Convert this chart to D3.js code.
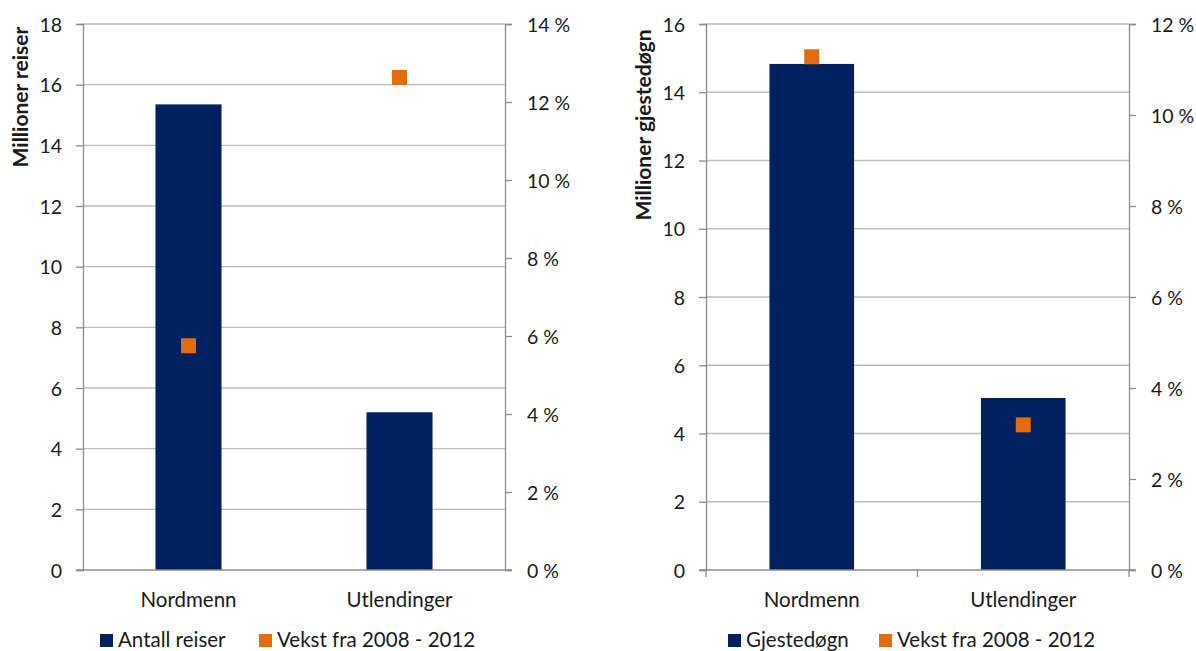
<!DOCTYPE html>
<html>
<head>
<meta charset="utf-8">
<script src="https://cdn.jsdelivr.net/npm/d3@7"></script>
<style>
  html, body { margin: 0; padding: 0; background: #fff; }
  svg text { font-family: Lato, "Open Sans", sans-serif; fill: #1a1a1a; }
</style>
</head>
<body>
<svg id="chart" width="1196" height="651"></svg>
<script>
// Categories shared by both panels
const categories = ["Nordmenn", "Utlendinger"];

// Left panel: trips (millions) and growth 2008-2012 (%)
const trips = [15.35, 5.2];
const tripsGrowth = [5.75, 12.63];
const tripsTicks = [0, 2, 4, 6, 8, 10, 12, 14, 16, 18];
const tripsPctTicks = [0, 2, 4, 6, 8, 10, 12, 14];

// Right panel: guest nights (millions) and growth 2008-2012 (%)
const nights = [14.83, 5.04];
const nightsGrowth = [11.28, 3.19];
const nightsTicks = [0, 2, 4, 6, 8, 10, 12, 14, 16];
const nightsPctTicks = [0, 2, 4, 6, 8, 10, 12];

const BAR = "#002060";
const MARK = "#e46c0a";
const GRID = "#bdbdbd";
const AXIS = "#8c8c8c";

const svg = d3.select("#chart");

function panel(opt) {
  const g = svg.append("g");
  const x = d3.scaleBand().domain(categories).range([opt.x0, opt.x1]).padding(0);
  const y = d3.scaleLinear().domain([0, d3.max(opt.ticks)]).range([570, 24]);
  const y2 = d3.scaleLinear().domain([0, d3.max(opt.pctTicks)]).range([570, 24]);

  // gridlines
  g.selectAll("line.grid").data(opt.ticks.filter(d => d > 0)).join("line")
    .attr("x1", opt.x0).attr("x2", opt.x1)
    .attr("y1", d => y(d)).attr("y2", d => y(d))
    .attr("stroke", GRID).attr("stroke-width", 1.3);

  // left axis
  const la = g.append("g").attr("transform", `translate(${opt.x0},0)`)
    .call(d3.axisLeft(y).tickValues(opt.ticks).tickSize(7).tickPadding(14).tickFormat(d3.format("d")));
  la.select(".domain").attr("stroke", AXIS).attr("stroke-width", 1.3);
  la.selectAll(".tick line").attr("stroke", AXIS).attr("stroke-width", 1.3);
  la.selectAll("text").attr("font-size", 19.5).attr("fill", "#1a1a1a").attr("dy", "0.36em");

  // right axis (percent)
  const ra = g.append("g").attr("transform", `translate(${opt.x1},0)`)
    .call(d3.axisRight(y2).tickValues(opt.pctTicks).tickSize(7).tickPadding(15).tickFormat(d => d + " %"));
  ra.select(".domain").attr("stroke", AXIS).attr("stroke-width", 1.3);
  ra.selectAll(".tick line").attr("stroke", AXIS).attr("stroke-width", 1.3);
  ra.selectAll("text").attr("font-size", 19.5).attr("fill", "#1a1a1a").attr("dy", "0.36em");

  // bars
  const bw = x.bandwidth() * opt.barFrac;
  g.selectAll("rect.bar").data(categories).join("rect")
    .attr("x", d => x(d) + x.bandwidth() / 2 - bw / 2)
    .attr("width", bw)
    .attr("y", (d, i) => y(opt.values[i]))
    .attr("height", (d, i) => y(0) - y(opt.values[i]))
    .attr("fill", BAR);

  // baseline axis
  g.append("line").attr("x1", opt.x0 - 7).attr("x2", opt.x1 + 7)
    .attr("y1", y(0)).attr("y2", y(0)).attr("stroke", AXIS).attr("stroke-width", 1.3);
  if (opt.catTicks) {
    const edges = [opt.x0, (opt.x0 + opt.x1) / 2, opt.x1];
    g.selectAll("line.ct").data(edges).join("line")
      .attr("x1", d => d).attr("x2", d => d).attr("y1", y(0)).attr("y2", y(0) + 7)
      .attr("stroke", AXIS).attr("stroke-width", 1.3);
  }

  // growth markers
  const ms = 15;
  g.selectAll("rect.mark").data(categories).join("rect")
    .attr("x", d => x(d) + x.bandwidth() / 2 - ms / 2)
    .attr("y", (d, i) => y2(opt.growth[i]) - ms / 2)
    .attr("width", ms).attr("height", ms)
    .attr("fill", MARK);

  // category labels
  g.selectAll("text.cat").data(categories).join("text")
    .attr("x", d => x(d) + x.bandwidth() / 2).attr("y", 607)
    .attr("text-anchor", "middle").attr("font-size", 20.5).text(d => d);

  // axis title
  g.append("text")
    .attr("transform", `translate(${opt.titleX},${opt.titleY}) rotate(-90)`)
    .attr("text-anchor", "middle").attr("font-size", 21).attr("font-weight", "bold")
    .text(opt.title);

  // legend
  const lg = g.append("g").attr("transform", `translate(${opt.legX},0)`);
  const items = [{ label: opt.barLabel, color: BAR, x: 0 }, { label: "Vekst fra 2008 - 2012", color: MARK, x: opt.legGap }];
  items.forEach(it => {
    lg.append("rect").attr("x", it.x).attr("y", 634).attr("width", 13).attr("height", 13).attr("fill", it.color);
    lg.append("text").attr("x", it.x + 18).attr("y", 647).attr("font-size", 20.5).text(it.label);
  });
}

panel({
  x0: 83, x1: 505, values: trips, growth: tripsGrowth,
  ticks: tripsTicks, pctTicks: tripsPctTicks, barFrac: 0.313,
  title: "Millioner reiser", titleX: 28, titleY: 97,
  barLabel: "Antall reiser", legX: 100, legGap: 159, catTicks: false
});

panel({
  x0: 706, x1: 1129, values: nights, growth: nightsGrowth,
  ticks: nightsTicks, pctTicks: nightsPctTicks, barFrac: 0.4,
  title: "Millioner gjestedøgn", titleX: 651, titleY: 125,
  barLabel: "Gjestedøgn", legX: 728, legGap: 151, catTicks: true
});
</script>
</body>
</html>
